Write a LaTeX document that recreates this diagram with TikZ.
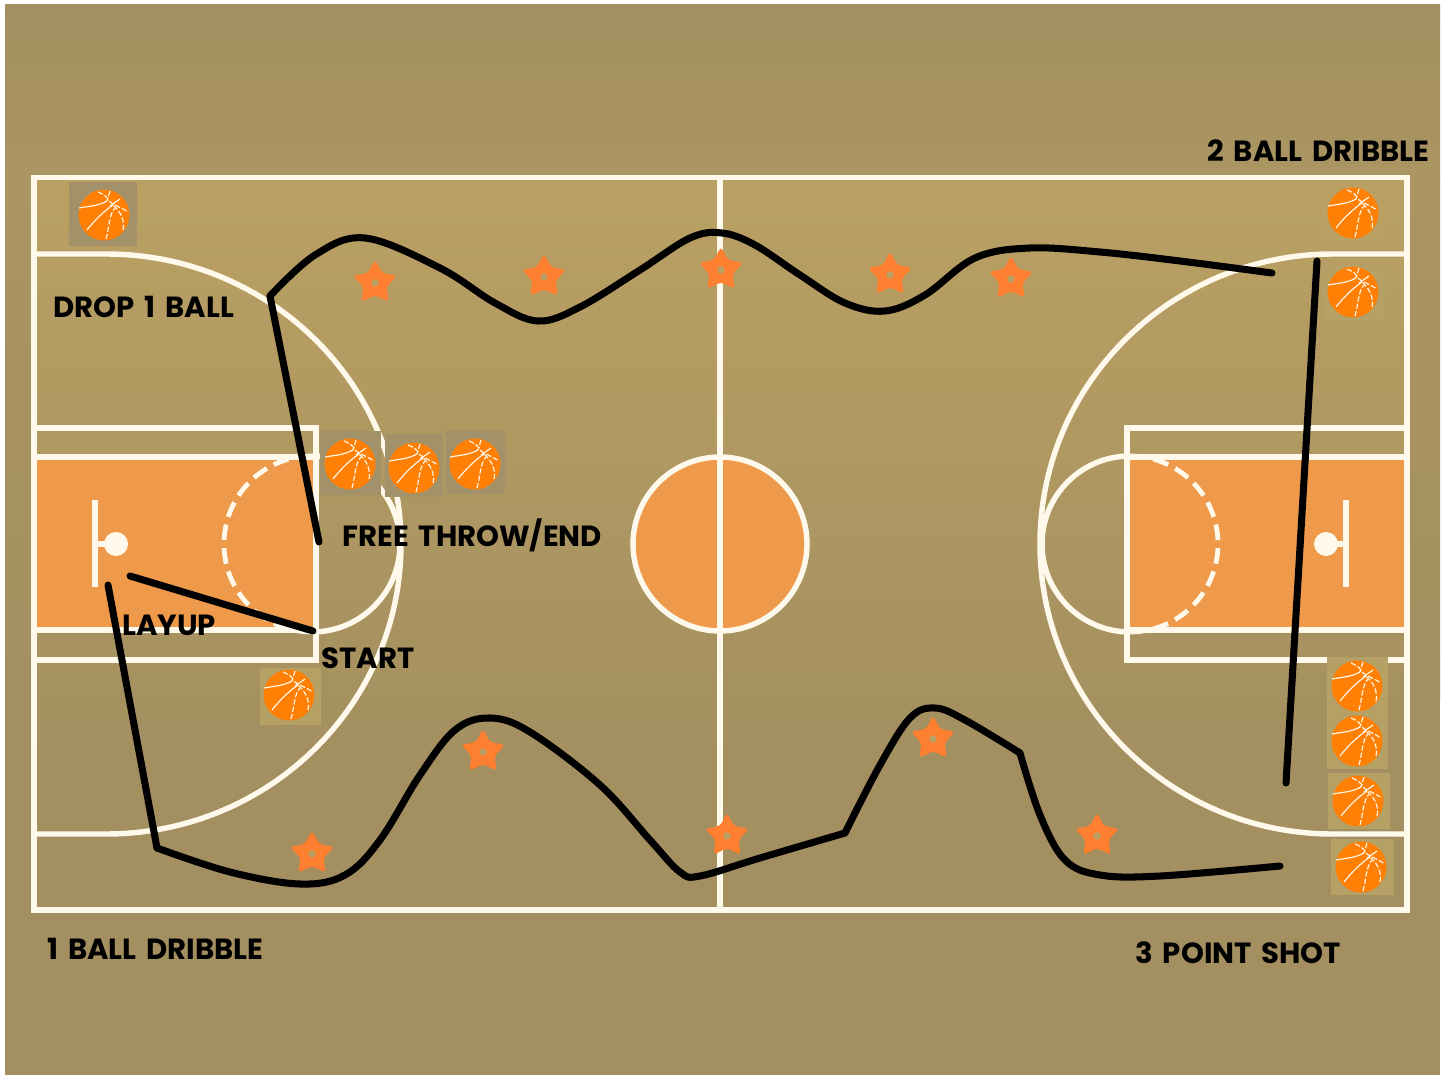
\documentclass[tikz,border=0pt]{standalone}
\usepackage{fontspec}
\setmainfont{Poppins}[WordSpace=1.6]
\usepackage{tikz}
\usetikzlibrary{shapes.geometric}
\definecolor{floordark}{RGB}{163,143,96}
\definecolor{floorlight}{RGB}{186,160,98}
\definecolor{courtline}{RGB}{255,249,236}
\definecolor{paintorange}{RGB}{238,154,74}
\definecolor{ballorange}{RGB}{255,128,5}
\definecolor{starorange}{RGB}{255,127,48}
\definecolor{patchdark}{RGB}{163,146,105}
\definecolor{patchlight}{RGB}{181,160,102}
\tikzset{
  court/.style={draw=courtline,line width=3.1pt},
  dashedcourt/.style={draw=courtline,line width=2.7pt,dash pattern=on 9pt off 4.5pt},
  route/.style={draw=black,line width=4pt,line cap=round,line join=round},
  starmark/.style={star,star points=5,star point ratio=2,fill=starorange,rounded corners=2.5pt,minimum size=0.95cm,inner sep=0pt},
  starhole/.style={circle,fill=floorlight,minimum size=0.15cm,inner sep=0pt},
  courtlabel/.style={anchor=base west,font=\fontsize{16.6pt}{20pt}\selectfont\bfseries,text=black,inner sep=0pt},
  seam/.style={draw=courtline,line width=0.65pt},
  dashseam/.style={draw=courtline,line width=0.65pt,dash pattern=on 3pt off 1.2pt},
  ball/.pic={
    \fill[ballorange] (0,0) circle (25.5);
    \draw[seam] (-25,-7) .. controls (-14,-9) and (-6,-9) .. (3,-14);
    \draw[seam] (-17,15) .. controls (-10,6) and (0,-4) .. (9,-10);
    \draw[dashseam] (-6,-23) .. controls (0,-21) and (4,-17) .. (6,-13) .. controls (12,-9) and (18,-7) .. (24,-3);
    \draw[dashseam] (2,24) .. controls (5,14) and (5,-1) .. (11,-7);
    \draw[dashseam] (19,15) .. controls (21,6) and (17,-3) .. (9,-10);
    \draw[seam] (16,-16) -- (6,-9);
    \draw[dashseam] (6,-24) -- (3,-14);
  }
}
\begin{document}
\begin{tikzpicture}[x=0.02cm,y=-0.02cm]
  \useasboundingbox (0,0) rectangle (1444,1078);
  \fill[white] (0,0) rectangle (1444,1078);
  \shade[top color=floordark,bottom color=floordark!65!floorlight] (5,5) rectangle (1440,178);
  \shade[top color=floordark!65!floorlight,bottom color=floordark] (5,178) rectangle (1440,700);
  \fill[floordark] (5,700) rectangle (1440,1075);
  \shade[top color=floorlight,bottom color=floordark] (34,177) rectangle (1407,760);

  % paint areas
  \fill[paintorange] (34,457) rectangle (316,630);
  \fill[paintorange] (1127,457) rectangle (1407,630);
  \fill[paintorange,draw=courtline,line width=3.1pt] (720,544) circle (87);

  % court lines
  \draw[court] (34,177.5) rectangle (1407,910);
  \draw[court] (720,177.5) -- (720,910);
  \draw[court] (34,428) -| (316,660) -- (34,660);
  \draw[court] (34,457) -- (316,457);
  \draw[court] (34,630) -- (316,630);
  \draw[court] (1407,428) -| (1127,660) -- (1407,660);
  \draw[court] (1127,457) -- (1407,457);
  \draw[court] (1127,630) -- (1407,630);

  % left end arcs
  \draw[court] (34,254) -- (106,254) arc[start angle=-90,end angle=90,x radius=295,y radius=290] -- (34,834);
  \draw[court] (312,632) arc[start angle=90,end angle=-90,radius=88];
  \draw[dashedcourt] (312,456) arc[start angle=-90,end angle=-270,radius=88];
  % right end arcs
  \draw[court] (1407,254) -- (1333,254) arc[start angle=-90,end angle=-270,x radius=293,y radius=290] -- (1407,834);
  \draw[court] (1130,456) arc[start angle=-90,end angle=-270,radius=88];
  \draw[dashedcourt] (1130,456) arc[start angle=-90,end angle=90,radius=88];

  % baskets
  \draw[court] (95,500) -- (95,587);
  \draw[court] (95,544) -- (116,544);
  \fill[courtline] (116,544) circle (12);
  \draw[court] (1346,500) -- (1346,587);
  \draw[court] (1346,544) -- (1326,544);
  \fill[courtline] (1326,544) circle (12);

  % ball patches and balls
  \foreach \xa/\ya/\xb/\yb/\patch in {69/182/137/246/patchdark,320/431/381/495/patchdark,385/434/443/497/patchdark,446/431/505/494/patchdark,260/668/321/725/patchlight,1322/185/1385/240/floorlight,1322/265/1385/320/patchlight,1327/657/1388/769/patchlight,1328/773/1390/829/patchlight,1331/839/1394/895/patchlight}
    \fill[\patch] (\xa,\ya) rectangle (\xb,\yb);
  \foreach \bx/\by [count=\i] in {104/215,350/464,414/468,475/464,289/695,1353/213,1353/292,1357/686,1357/741,1358/801,1361/867}
    \pic (ball\i) at (\bx,\by) {ball};

  % stars
  \foreach \sx/\sy [count=\i] in {375/283,544/277,721/270,890/275,1011/279,483/752,312/854,727/836,933/739,1097/836} {
    \node[starmark] (star\i) at (\sx,\sy) {};
    \node[starhole] (hole\i) at (star\i.center) {};
  }

  % route points
  \coordinate (dropball) at (270,296);
  \coordinate (freethrow) at (319,542);
  \coordinate (start) at (313,631);
  \coordinate (layup) at (130,576);
  \coordinate (rim) at (108,585);
  \coordinate (corner) at (157,848);
  \coordinate (midbend) at (845,833);
  \coordinate (highbend) at (1020,753);
  \coordinate (shotend) at (1280,866);
  \coordinate (dribbleend) at (1272,273);
  \coordinate (rightup) at (1317,261);
  \coordinate (rightdown) at (1286,783);

  % routes
  \draw[route] (start) -- (layup);
  \draw[route] (rim) -- (corner);
  \draw[route] (dropball) -- (freethrow);
  \draw[route] (rightup) -- (rightdown);
  \draw[route] plot[smooth,tension=0.6] coordinates {(dropball) (315,255) (365,238) (440,268) (495,303) (538,321) (580,307) (640,270) (690,238) (722,233) (755,245) (800,275) (845,303) (885,311) (925,295) (975,258) (1030,248) (1100,252) (1180,261) (dribbleend)};
  \draw[route] plot[smooth,tension=0.6] coordinates {(corner) (230,872) (300,884) (345,875) (380,840) (420,775) (455,730) (490,718) (530,732) (600,785) (650,840) (680,872) (700,876) (760,858) (midbend)};
  \draw[route] plot[smooth,tension=0.6] coordinates {(midbend) (880,765) (910,718) (935,708) (965,720) (highbend)};
  \draw[route] plot[smooth,tension=0.6] coordinates {(highbend) (1040,815) (1065,860) (1100,875) (1160,876) (shotend)};

  % labels
  \node[courtlabel] (twoball) at (1207,161) {2 BALL DRIBBLE};
  \node[courtlabel] (drop) at (53,317) {DROP 1 BALL};
  \node[courtlabel] (free) at (342,546) {FREE THROW/END};
  \node[courtlabel] (lay) at (122,635) {LAYUP};
  \node[courtlabel] (startlabel) at (321,668) {START};
  \node[courtlabel] (oneball) at (47,959) {1 BALL DRIBBLE};
  \node[courtlabel] (threepoint) at (1135,963) {3 POINT SHOT};
\end{tikzpicture}
\end{document}
